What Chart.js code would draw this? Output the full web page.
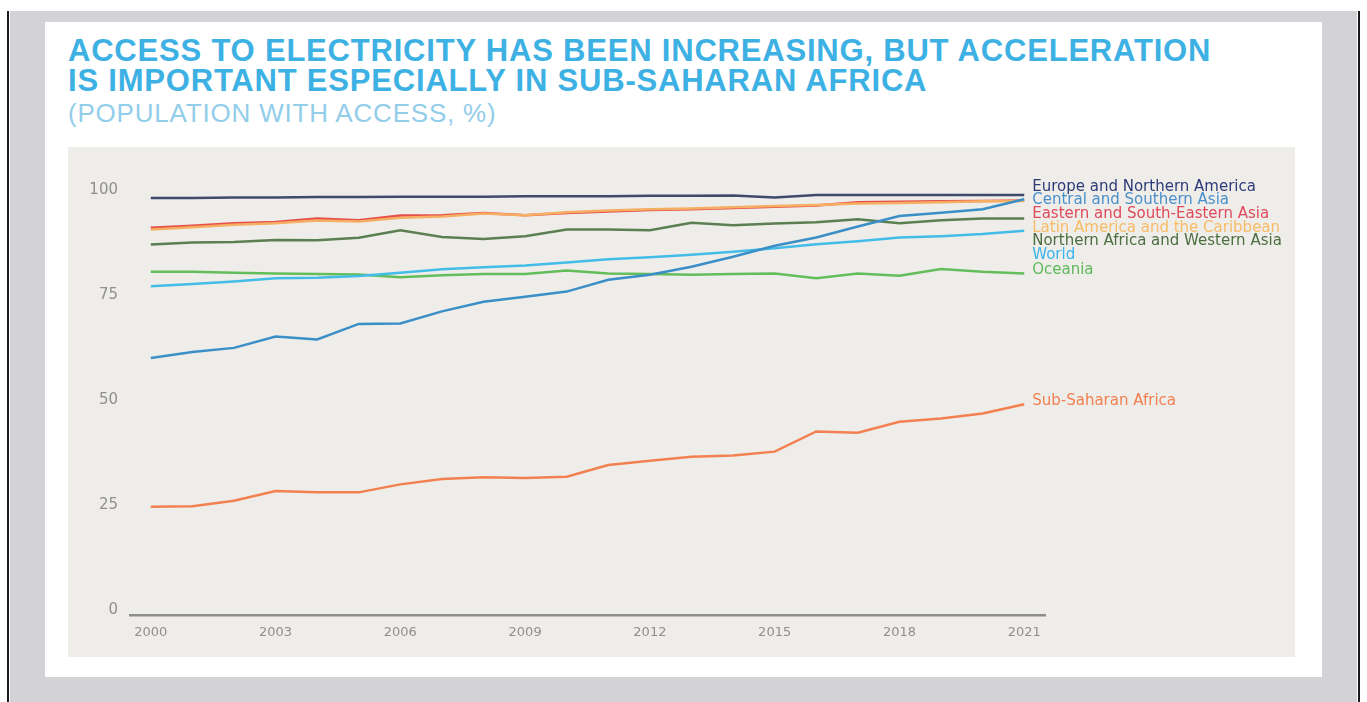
<!DOCTYPE html>
<html>
<head>
<meta charset="utf-8">
<script src="https://cdn.jsdelivr.net/npm/chart.js@4.4.1/dist/chart.umd.min.js"></script>
<style>
  html, body { margin: 0; padding: 0; background: #ffffff; }
  body { width: 1367px; height: 702px; position: relative; overflow: hidden; font-family: "Liberation Sans", Arial, sans-serif; }
  #frame { position: absolute; left: 10px; top: 11px; width: 1347px; height: 691px; background: #d3d3d7; }
  .edge { position: absolute; top: 11px; width: 2px; height: 691px; background: #1a1a1a; }
  #card { position: absolute; left: 45px; top: 22px; width: 1277px; height: 655px; background: #ffffff; }
  #title { position: absolute; left: 68px; top: 36px; margin: 0; font-size: 31px; line-height: 30px; font-weight: bold; letter-spacing: 0.8px; color: #3db1e3; white-space: nowrap; }
  #subtitle { position: absolute; left: 68px; top: 98px; margin: 0; font-size: 26px; line-height: 30px; font-weight: normal; letter-spacing: 0.8px; color: #92cdea; white-space: nowrap; }
  #plot { position: absolute; left: 68px; top: 147px; width: 1227px; height: 510px; background: #efedea; }
  #plot canvas { display: block; }
</style>
</head>
<body>
<div id="frame"></div>
<div class="edge" style="left:7px"></div>
<div class="edge" style="left:1358px"></div>
<div id="card"></div>
<h1 id="title">ACCESS TO ELECTRICITY HAS BEEN INCREASING, BUT ACCELERATION<br>IS IMPORTANT ESPECIALLY IN SUB-SAHARAN AFRICA</h1>
<h2 id="subtitle">(POPULATION WITH ACCESS, %)</h2>
<div id="plot"><canvas id="chart" width="1227" height="510"></canvas></div>

<script>
// Years on the horizontal axis
const years = ['2000','2001','2002','2003','2004','2005','2006','2007','2008','2009','2010',
               '2011','2012','2013','2014','2015','2016','2017','2018','2019','2020','2021'];

// Share of population with access to electricity, %
const europeNorthAmerica = [99.3,99.3,99.4,99.4,99.5,99.5,99.6,99.6,99.6,99.7,99.7,99.7,99.8,99.8,99.9,99.4,100,100,100,100,100,100];
const centralSouthernAsia = [61.2,62.6,63.6,66.3,65.6,69.3,69.4,72.3,74.6,75.8,77.0,79.8,81.0,82.9,85.3,87.9,89.9,92.5,95.0,95.8,96.6,99.0];
const easternSouthEasternAsia = [92.2,92.7,93.3,93.6,94.4,94.0,95.1,95.2,95.7,95.2,95.7,96.1,96.4,96.6,96.9,97.2,97.5,98.3,98.4,98.5,98.6,98.7];
const latinAmericaCaribbean = [91.8,92.3,92.9,93.3,93.9,93.7,94.6,94.9,95.6,95.2,95.9,96.3,96.6,96.8,97.1,97.4,97.6,98.0,98.1,98.3,98.5,98.6];
const northernAfricaWesternAsia = [88.2,88.7,88.8,89.3,89.2,89.8,91.6,90.0,89.5,90.2,91.8,91.8,91.6,93.4,92.8,93.2,93.5,94.2,93.3,94.0,94.4,94.4];
const world = [78.3,78.8,79.4,80.2,80.3,80.7,81.5,82.3,82.8,83.2,83.9,84.7,85.2,85.8,86.5,87.3,88.3,89.0,89.9,90.2,90.7,91.5];
const oceania = [81.7,81.7,81.5,81.3,81.2,81.1,80.4,80.9,81.2,81.2,82.0,81.3,81.2,81.0,81.2,81.3,80.2,81.3,80.8,82.4,81.7,81.3];
const subSaharanAfrica = [25.8,25.9,27.2,29.5,29.2,29.2,31.1,32.4,32.8,32.6,32.9,35.7,36.7,37.7,38.0,38.9,43.7,43.4,46.0,46.8,48.0,50.2];

// Region names, in the order of the end-of-line labels
const regionNames = ['Europe and Northern America','Central and Southern Asia','Eastern and South-Eastern Asia',
  'Latin America and the Caribbean','Northern Africa and Western Asia','World','Oceania','Sub-Saharan Africa'];

// Y-axis ticks
const yTicks = [0, 25, 50, 75, 100];

const seriesValues = [europeNorthAmerica, centralSouthernAsia, easternSouthEasternAsia, latinAmericaCaribbean,
  northernAfricaWesternAsia, world, oceania, subSaharanAfrica];

// Styling per region: line colour, label colour, drawing order, label height (axis units)
const lineColors  = ['#3f4a6b','#3a8fc7','#e6504b','#f6ae62','#5a7f50','#43bde8','#64bd5b','#f38050'];
const labelColors = ['#2d3b78','#4a90ca','#df4a5c','#f7bc66','#4c6e40','#37b4ea','#5db95a','#f17f50'];
const drawOrder   = [1, 3, 5, 4, 6, 7, 8, 2];
const labelLevels = [101.8, 98.9, 95.4, 92.2, 89.0, 85.7, 82.2, 50.9];

const datasets = regionNames.map((name, i) => ({
  label: name,
  data: seriesValues[i],
  borderColor: lineColors[i],
  backgroundColor: lineColors[i],
  borderWidth: 2.5,
  pointRadius: 0,
  tension: 0,
  fill: false,
  clip: false,
  order: drawOrder[i]
}));

// Names written just right of each line's last point
const endLabels = {
  id: 'endLabels',
  afterDatasetsDraw(chart) {
    const ctx = chart.ctx;
    const yScale = chart.scales.y;
    ctx.save();
    ctx.font = '15px "DejaVu Sans"';
    ctx.textBaseline = 'middle';
    ctx.textAlign = 'left';
    chart.data.datasets.forEach((ds, i) => {
      const meta = chart.getDatasetMeta(i);
      const last = meta.data[meta.data.length - 1];
      ctx.fillStyle = labelColors[i];
      ctx.fillText(ds.label, last.x + 8, yScale.getPixelForValue(labelLevels[i]));
    });
    ctx.restore();
  }
};

new Chart(document.getElementById('chart'), {
  type: 'line',
  data: { labels: years, datasets: datasets },
  options: {
    responsive: false,
    animation: false,
    devicePixelRatio: 1,
    layout: { padding: { top: 48, right: 250, bottom: 0, left: 0 } },
    plugins: { legend: { display: false }, tooltip: { enabled: false }, title: { display: false } },
    scales: {
      x: {
        type: 'category',
        offset: true,
        grid: { display: false, drawTicks: false },
        border: { display: true, color: '#8d8d8d', width: 2.5 },
        ticks: {
          autoSkip: false,
          maxRotation: 0,
          padding: 10,
          color: '#8f8f8f',
          font: { family: 'DejaVu Sans', size: 13 },
          callback: function (value, index) { return index % 3 === 0 ? this.getLabelForValue(value) : ''; }
        },
        afterFit: (scale) => { scale.height = 42; }
      },
      y: {
        min: 0,
        max: 100,
        grid: { display: false, drawTicks: false },
        border: { display: false },
        ticks: {
          padding: 12,
          labelOffset: -5,
          color: '#8f8f8f',
          font: { family: 'DejaVu Sans', size: 15 }
        },
        afterBuildTicks: (scale) => { scale.ticks = yTicks.map(v => ({ value: v })); },
        afterFit: (scale) => { scale.width = 62; }
      }
    }
  },
  plugins: [endLabels]
});
</script>
</body>
</html>
